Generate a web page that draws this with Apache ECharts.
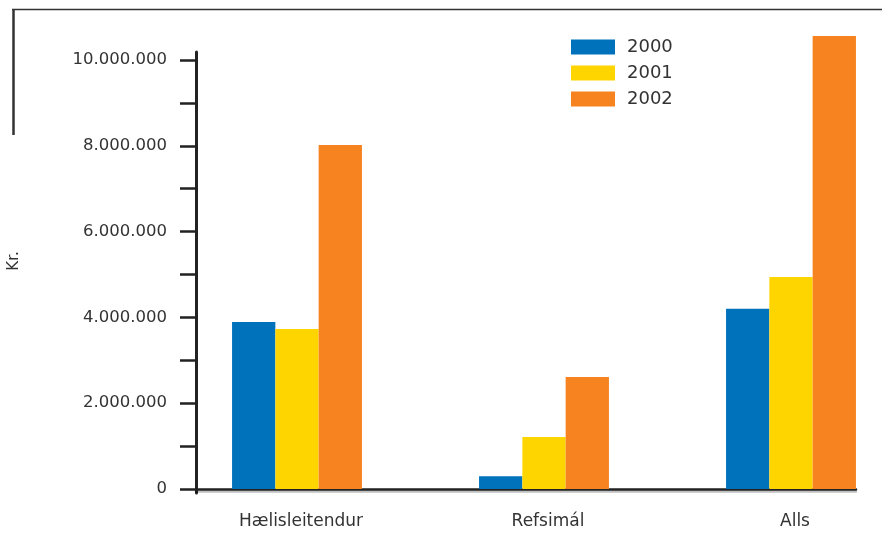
<!DOCTYPE html>
<html>
<head>
<meta charset="utf-8">
<script src="https://cdn.jsdelivr.net/npm/echarts@6/dist/echarts.min.js"></script>
<style>html,body{margin:0;padding:0;background:#fff;}#c{width:882px;height:534px;}</style>
</head>
<body>
<div id="c"></div>
<script>
var categories = ['Hælisleitendur', 'Refsimál', 'Alls'];
var seriesNames = ['2000', '2001', '2002'];
var values2000 = [3890000, 300000, 4200000];
var values2001 = [3730000, 1210000, 4940000];
var values2002 = [8020000, 2610000, 10560000];
var tickValues = [0, 1000000, 2000000, 3000000, 4000000, 5000000, 6000000, 7000000, 8000000, 9000000, 10000000];
var labelValues = [0, 2000000, 4000000, 6000000, 8000000, 10000000];
var colors = ['#0072BC', '#FFD500', '#F68320'];

var FONT = 'DejaVu Sans';
var yMin = -93000, yMax = 10186000;
var gridTop = 52, gridBottom = 41;

function fmt(v) {
  return String(Math.round(v)).replace(/\B(?=(\d{3})+(?!\d))/g, '.');
}

var chart = echarts.init(document.getElementById('c'));
var data = [values2000, values2001, values2002];
chart.setOption({
  animation: false,
  backgroundColor: '#fff',
  grid: [
    {left: 297, right: 91, top: gridTop, bottom: gridBottom},
    {left: 196, right: 26, top: gridTop, bottom: gridBottom}
  ],
  legend: {
    orient: 'vertical',
    left: 566, top: 33,
    itemWidth: 44, itemHeight: 15, itemGap: 8,
    icon: 'rect',
    data: seriesNames,
    textStyle: {fontFamily: FONT, fontSize: 18, color: '#333', padding: [0, 0, 0, 7]}
  },
  xAxis: [
    {
      type: 'category', gridIndex: 0, data: categories, boundaryGap: false,
      axisLine: {show: false}, axisTick: {show: false},
      axisLabel: {fontFamily: FONT, fontSize: 17, color: '#333', margin: 20, padding: [0, 0, 0, 8]}
    },
    {
      type: 'value', gridIndex: 1, min: 0, max: 1,
      axisLine: {show: true, onZero: true, lineStyle: {color: '#222', width: 2.5, shadowColor: 'rgba(0,0,0,0.25)', shadowOffsetY: 2, shadowBlur: 0}},
      axisTick: {show: false}, axisLabel: {show: false}, splitLine: {show: false}
    }
  ],
  yAxis: [
    {
      type: 'value', gridIndex: 0, min: yMin, max: yMax, show: false, splitLine: {show: false}
    },
    {
      type: 'value', gridIndex: 1, min: yMin, max: yMax,
      axisLine: {show: true, lineStyle: {color: '#222', width: 3}},
      axisTick: {show: true, length: 16, customValues: tickValues, lineStyle: {color: '#222', width: 2.5}},
      axisLabel: {customValues: labelValues, formatter: fmt, fontFamily: FONT, fontSize: 16.5, color: '#333', margin: 29},
      splitLine: {show: false}
    }
  ],
  graphic: [
    {type: 'line', shape: {x1: 12, y1: 9.5, x2: 882, y2: 9.5}, style: {stroke: '#333', lineWidth: 1.5}},
    {type: 'line', shape: {x1: 13.5, y1: 9, x2: 13.5, y2: 135}, style: {stroke: '#333', lineWidth: 2.5}},
    {type: 'text', x: 14, y: 261, rotation: Math.PI / 2,
     style: {text: 'Kr.', fontFamily: FONT, fontSize: 15, fill: '#333', align: 'center', verticalAlign: 'middle'}}
  ],
  series: seriesNames.map(function (n, i) {
    return {
      name: n, type: 'bar', xAxisIndex: 0, yAxisIndex: 0,
      data: data[i], barWidth: 43.3, barGap: '0%', clip: false,
      itemStyle: {color: colors[i]}
    };
  })
});
</script>
</body>
</html>
